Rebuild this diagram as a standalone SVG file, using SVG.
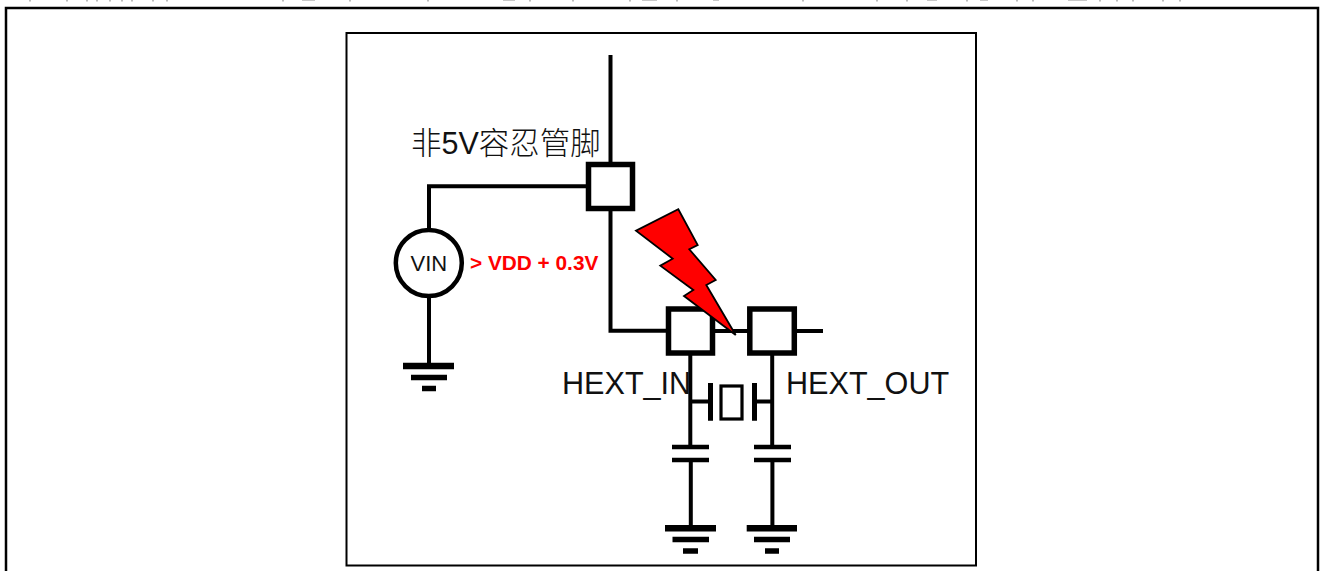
<svg xmlns="http://www.w3.org/2000/svg" width="1323" height="571" viewBox="0 0 1323 571">
<style>
.w{fill:none;stroke:#000;stroke-width:4;stroke-linecap:butt}
.pin{fill:#fff;stroke:#000;stroke-width:5.5}
.plate{fill:none;stroke:#000;stroke-width:5}
.cap{fill:none;stroke:#000;stroke-width:4.5}
.g1{fill:none;stroke:#000;stroke-width:6.5}
.g2{fill:none;stroke:#000;stroke-width:5.5}
.t{font-family:"Liberation Sans","Noto Sans CJK SC",sans-serif;fill:#111}
</style>
<rect width="1323" height="571" fill="#fff"/>
<path id="cropped-line" d="M30 0v1.5M67 0v1.5M87 0v1.5M97 0v1.5M110 0v1.5M122 0v1.5M132 0v1.5M153 0v1.5M167 0v1.5M283 0v1.5M302 0h13M350 0v1.5M428 0v1.5M503 0h12M530 0v1.5M573 0v1.5M630 0v1.5M642 0h15M677 0v1.5M713 0h6M803 0v1.5M877 0v1.5M907 0v1.5M927 0h10M967 0v1.5M980 0h8M1017 0v1.5M1033 0v1.5M1068 0h19M1100 0v1.5M1117 0v1.5M1133 0v1.5M1163 0v1.5M1180 0v1.5" fill="none" stroke="#333" stroke-width="1.2" opacity=".55"/>
<rect id="outer-frame" x="6" y="8" width="1312" height="580" fill="none" stroke="#000" stroke-width="2.5"/>
<rect id="inner-frame" x="346.5" y="33" width="629.5" height="532.5" fill="none" stroke="#000" stroke-width="2"/>
<g id="connectors">
<path class="w" d="M610.5 55V330.7H668"/>
<path class="w" d="M588 186.3H429V232"/>
<path class="w" d="M429 296V366"/>
<path class="w" d="M712 331H750M794 331H823"/>
<path class="w" d="M690.3 353V447"/>
<path class="w" d="M772.2 353V447"/>
<path class="w" d="M690.3 401.5H710M754.5 401.5H772.2"/>
<path class="w" d="M690.8 460V528M772.4 460V528"/>
</g>
<g id="pin-5v"><rect class="pin" x="588.5" y="164.5" width="44" height="44"/></g>
<g id="pin-hext-in"><rect class="pin" x="668.5" y="309" width="44" height="44"/></g>
<g id="pin-hext-out"><rect class="pin" x="749.8" y="309" width="44.5" height="44"/></g>
<g id="vin"><circle cx="428.8" cy="263" r="33" fill="#fff" stroke="#000" stroke-width="4.5"/>
<text class="t" x="428.8" y="271" font-size="22" text-anchor="middle">VIN</text></g>
<g id="gnd-vin"><path class="g1" d="M403 366H454"/><path class="g2" d="M411 377.5H447"/><path class="g2" d="M422 388.5H436"/></g>
<g id="crystal">
<path class="plate" d="M710.5 383V420.7M754.5 383V420.7"/>
<rect x="721" y="386" width="21" height="33" fill="#fff" stroke="#000" stroke-width="3.2"/>
</g>
<g id="cap-in"><path class="cap" d="M672 447H709M672 460H709"/></g>
<g id="cap-out"><path class="cap" d="M754 447H791M754 460H791"/></g>
<g id="gnd-in"><path class="g1" d="M665 528.3H716"/><path class="g2" d="M672.5 539.5H709"/><path class="g2" d="M683 551H698"/></g>
<g id="gnd-out"><path class="g1" d="M746.7 528.3H797"/><path class="g2" d="M754 539.5H790"/><path class="g2" d="M765 551H779"/></g>
<g id="bolt"><polygon points="678.3,209.3 697.7,245 689.3,249.3 715.7,280 706.3,285 735.7,335 684,296 693.3,290 660.3,265.7 672.7,258.7 636,230.7" fill="#f00" stroke="#000" stroke-width="1.8"/></g>
<text id="label-pin" class="t" x="411" y="154" font-size="30.5" font-weight="300">非5V容忍管脚</text>
<text id="label-vdd" x="470" y="270" font-size="20.8" font-weight="700" fill="#f00" font-family="'Liberation Sans',sans-serif">&gt; VDD + 0.3V</text>
<text id="label-in" class="t" x="562" y="394" font-size="30.6">HEXT_IN</text>
<text id="label-out" class="t" x="786" y="394" font-size="30.6">HEXT_OUT</text>
</svg>
